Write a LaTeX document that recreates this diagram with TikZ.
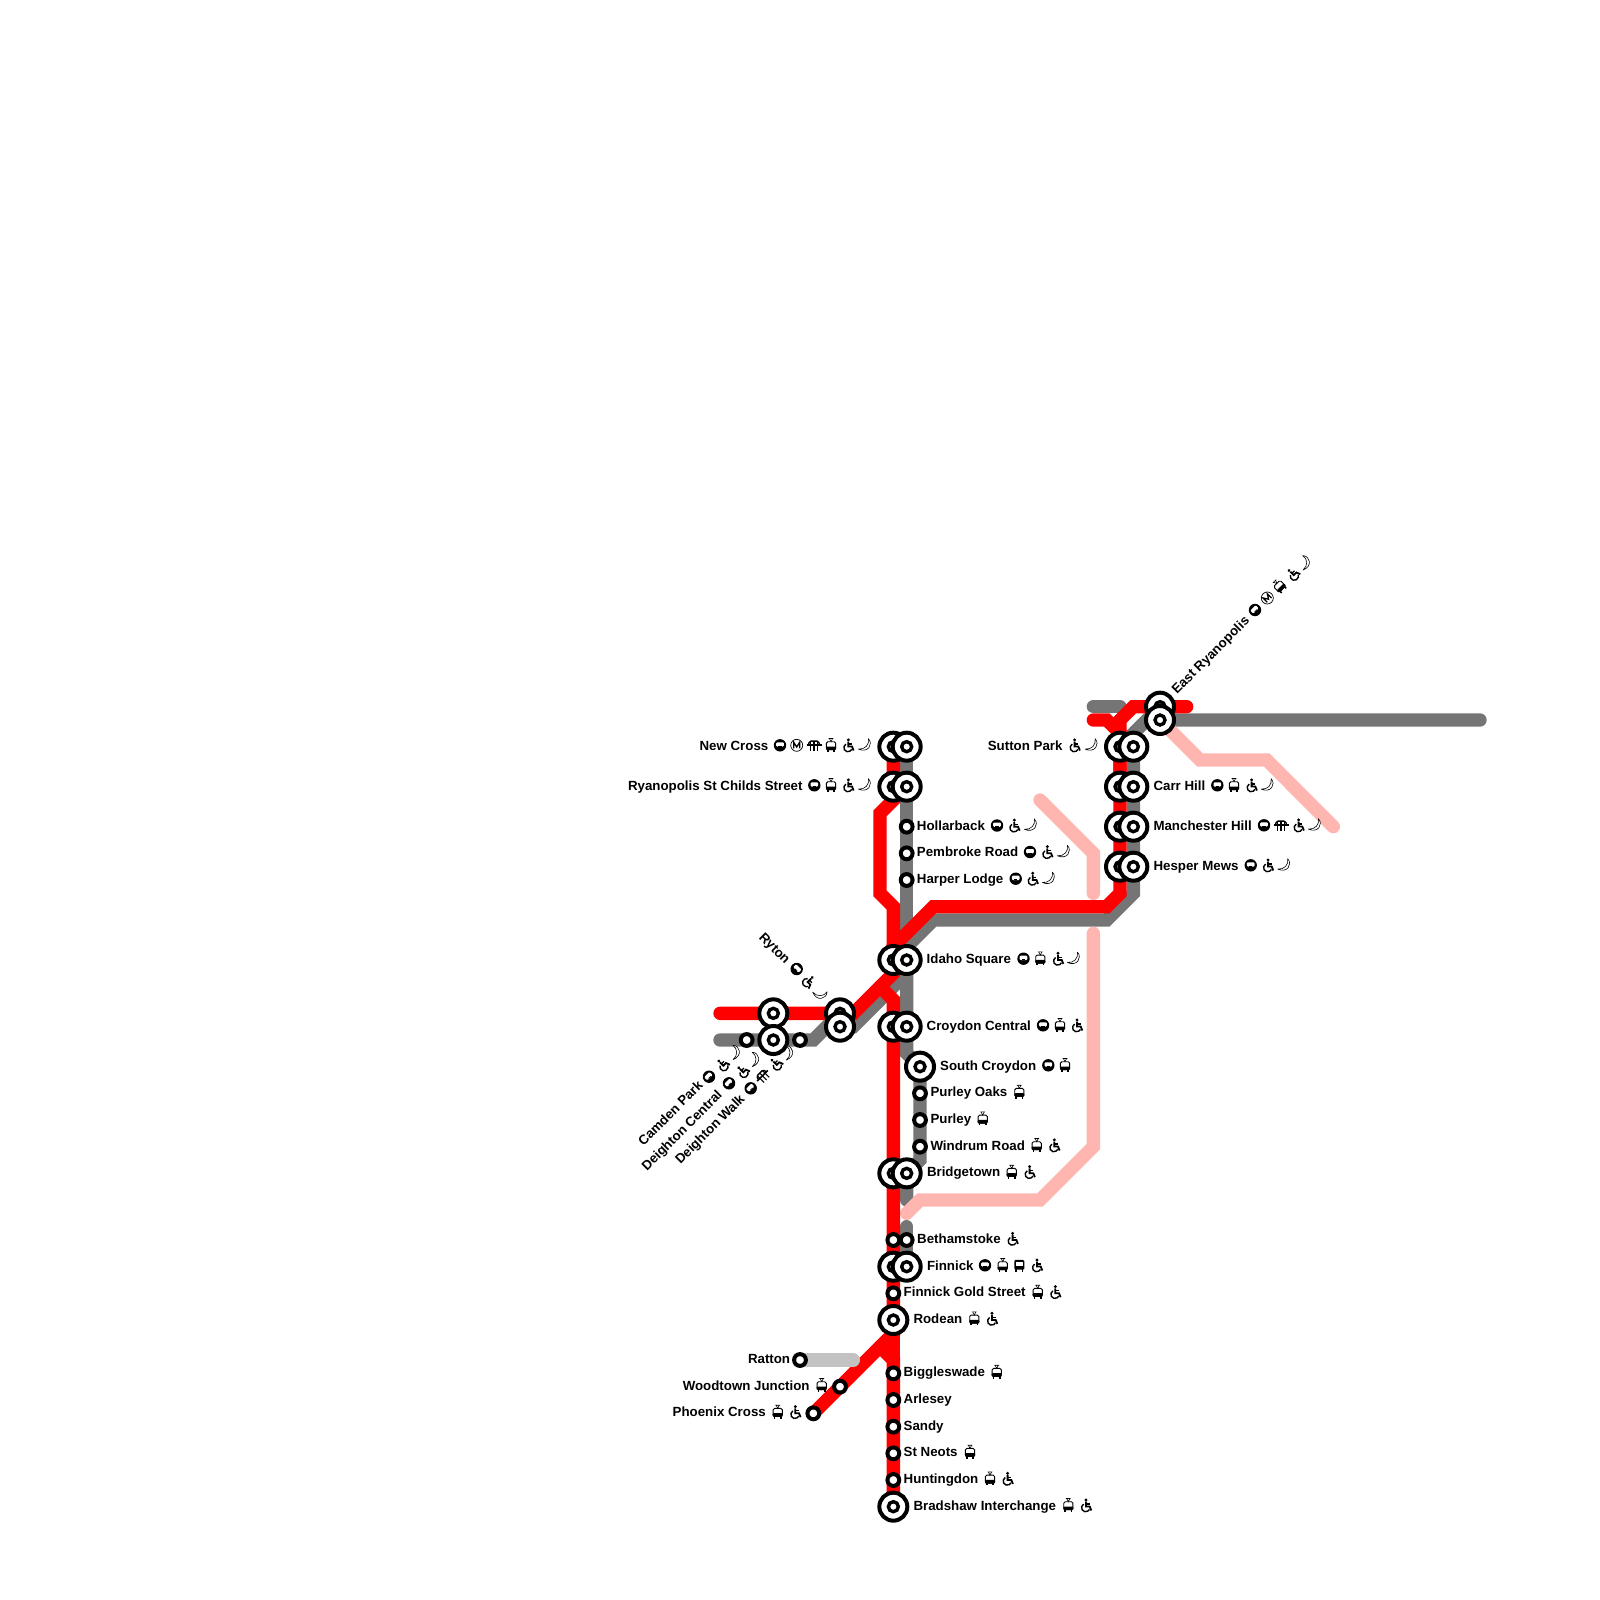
\documentclass[tikz,border=0pt]{standalone}
\usepackage{fontspec}
\setmainfont{Liberation Sans}
\pgfdeclarelayer{lines}
\pgfsetlayers{lines,main}
\definecolor{lred}{HTML}{FF0000}
\definecolor{lgrey}{HTML}{757575}
\definecolor{lpink}{HTML}{FFB5B0}
\definecolor{lsilver}{HTML}{C2C2C2}
\tikzset{
 x=1pt,y=-1pt,
 bigout/.style={circle,draw=black,fill=white,line width=4pt,minimum size=28pt,inner sep=0pt},
 bigin/.style={circle,draw=black,fill=white,line width=3.4pt,minimum size=10pt,inner sep=0pt},
 smlstn/.style={circle,draw=black,fill=white,line width=4pt,minimum size=11.8pt,inner sep=0pt},
 lab/.style={font=\fontsize{13.3}{15}\selectfont\bfseries,inner sep=0pt,text height=9.5pt,text depth=0pt},
 lne/.style={line width=13.33pt,line cap=round,line join=miter},
 redline/.style={lne,draw=lred},
 greyline/.style={lne,draw=lgrey},
 pinkline/.style={lne,draw=lpink},
 silverline/.style={lne,draw=lsilver},
 pics/tubeic/.style={code={
   \fill[black] (0,0) circle (6.2);
   \fill[white,rounded corners=1pt] (-3.8,-3) rectangle (3.8,1.3);
   \fill[black] (-1.6,.7) rectangle (1.6,1.4);
 }},
 pics/metroic/.style={code={
   \draw[black,line width=.7pt] (0,0) circle (6);
   \draw[black,line width=1.3pt,line join=miter] (-3,3)--(-3,-3)--(0,1.7)--(3,-3)--(3,3);
 }},
 pics/bridgeic/.style={code={
   \draw[black,line width=1.4pt,rounded corners=1.5pt] (-5.5,-.5)--(-4.5,-4.2)--(4.5,-4.2)--(5.5,-.5);
   \draw[black,line width=1.5pt] (-7.5,-.3)--(7.5,-.3);
   \draw[black,line width=1.1pt] (-3.6,-4)--(-3.6,5.5) (0,-4)--(0,5.5) (3.6,-4)--(3.6,5.5);
 }},
 pics/tramic/.style={code={
   \draw[black,line width=.9pt,rounded corners=1.5pt,fill=white] (-4.6,-3.6) rectangle (4.6,4.4);
   \fill[black,rounded corners=1pt] (-5,1.2) rectangle (5,4.8);
   \draw[black,line width=.6pt] (-2.4,-6.8)--(2.4,-6.8) (-1.6,-6.8)--(0,-3.6)--(1.6,-6.8);
   \draw[black,line width=1.5pt] (-3.2,4.5)--(-3.2,6.6) (3.2,4.5)--(3.2,6.6);
 }},
 pics/busic/.style={code={
   \fill[black,rounded corners=1.2pt] (-5,-5.4) rectangle (5,4.4);
   \fill[white] (-3.6,-3.2) rectangle (3.6,0.3);
   \draw[black,line width=1.5pt] (-3.2,4)--(-3.2,6.4) (3.2,4)--(3.2,6.4);
 }},
 pics/wheelic/.style={code={
   \fill[black] (0.3,-5.4) circle (1.6);
   \draw[black,line width=1.8pt,line join=miter] (0.3,-3.6)--(0.3,1.2)--(4,1.2)--(5.6,5.2);
   \draw[black,line width=1.2pt] (.4,-1.4)--(3.8,-1.4);
   \draw[black,line width=1.4pt] (-2.1,-1.2) arc[start angle=120,end angle=335,radius=4.1pt];
 }},
 pics/moonic/.style={code={
   \draw[black,line width=.6pt,fill=white,line join=round] (3.4,-6.6) .. controls (8.6,-1) and (3,8) .. (-6.6,3.8) .. controls (0,4.4) and (4.6,-.6) .. (3.4,-6.6) -- cycle;
 }},
}
\newcommand\Tu[3][0]{\pic[rotate=#1] at (#2,#3) {tubeic};}
\newcommand\Me[3][0]{\pic[rotate=#1] at (#2,#3) {metroic};}
\newcommand\Br[3][0]{\pic[rotate=#1] at (#2,#3) {bridgeic};}
\newcommand\Tr[3][0]{\pic[rotate=#1] at (#2,#3) {tramic};}
\newcommand\Bu[3][0]{\pic[rotate=#1] at (#2,#3) {busic};}
\newcommand\Wh[3][0]{\pic[rotate=#1] at (#2,#3) {wheelic};}
\newcommand\Mo[3][0]{\pic[rotate=#1] at (#2,#3) {moonic};}
\newcommand\Bstn[3]{\node[bigout] (#1) at (#2,#3) {}; \node[bigin] (#1i) at (#2,#3) {};}
\newcommand\Sstn[3]{\node[smlstn] (#1) at (#2,#3) {};}
\newcommand\Rlab[4]{\node[lab,anchor=west] (#1) at (#2,#3) {#4};}
\newcommand\Llab[4]{\node[lab,anchor=east] (#1) at (#2,#3) {#4};}
\newcommand\Alab[5]{\node[lab,anchor=west,rotate=#4] (#1) at (#2,#3) {#5};}
\begin{document}
\begin{tikzpicture}
\useasboundingbox (0,0) rectangle (1600,1600);
% stations
\Bstn{ncr}{893.33}{746.67}\Bstn{ncg}{906.67}{746.67}
\Bstn{rsr}{893.33}{786.67}\Bstn{rsg}{906.67}{786.67}
\Sstn{hol}{906.67}{826.67}\Sstn{pem}{906.67}{853.33}\Sstn{har}{906.67}{880}
\Bstn{idr}{893.33}{960}\Bstn{idg}{906.67}{960}
\Bstn{ccr}{893.33}{1026.67}\Bstn{ccg}{906.67}{1026.67}
\Bstn{sou}{920}{1066.67}
\Sstn{pok}{920}{1093.33}\Sstn{pur}{920}{1120}\Sstn{win}{920}{1146.67}
\Bstn{brr}{893.33}{1173.33}\Bstn{brg}{906.67}{1173.33}
\Sstn{ber}{893.33}{1240}\Sstn{beg}{906.67}{1240}
\Bstn{fir}{893.33}{1266.67}\Bstn{fig}{906.67}{1266.67}
\Sstn{fgs}{893.33}{1293.33}
\Bstn{rod}{893.33}{1320}
\Sstn{big}{893.33}{1373.33}\Sstn{arl}{893.33}{1400}\Sstn{san}{893.33}{1426.67}\Sstn{stn}{893.33}{1453.33}\Sstn{hun}{893.33}{1480}
\Bstn{bra}{893.33}{1506.67}
\Sstn{rat}{800}{1360}\Sstn{woo}{840}{1386.67}\Sstn{pho}{813.33}{1413.33}
\Bstn{dcr}{773.33}{1013.33}
\Bstn{dcg}{773.33}{1040}
\Sstn{cam}{746.67}{1040}\Sstn{dwa}{800}{1040}
\Bstn{ryr}{840}{1013.33}\Bstn{ryg}{840}{1026.67}
\Bstn{ear}{1160}{706.67}\Bstn{eag}{1160}{720}
\Bstn{sur}{1120}{746.67}\Bstn{sug}{1133.33}{746.67}
\Bstn{car}{1120}{786.67}\Bstn{cag}{1133.33}{786.67}
\Bstn{mar}{1120}{826.67}\Bstn{mag}{1133.33}{826.67}
\Bstn{her}{1120}{866.67}\Bstn{heg}{1133.33}{866.67}
% free ends of the lines
\coordinate (gE) at (1480,720);
\coordinate (gStub1) at (1093.33,706.67);
\coordinate (gStub2) at (1120,706.67);
\coordinate (gW) at (720,1040);
\coordinate (gCut) at (906.67,1200);
\coordinate (gTop) at (906.67,1226.67);
\coordinate (rW) at (720,1013.33);
\coordinate (rStubA) at (1093.33,720);
\coordinate (rStubB) at (1186.67,706.67);
\coordinate (sEnd) at (853.33,1360);
\coordinate (p1a) at (1040,800);
\coordinate (p1b) at (1093.33,893.33);
\coordinate (p2a) at (1093.33,933.33);
\coordinate (p2b) at (906.67,1213.33);
\coordinate (p3b) at (1333.33,826.67);
\begin{pgfonlayer}{lines}
 % grey
 \draw[greyline] (gE) -- (eag.center) -- (1146.67,720) -- (1133.33,733.33) -- (sug.center) -- (heg.center) -- (1133.33,893.33) -- (1106.67,920) -- (933.33,920) -- (906.67,946.67) -- (idg.center) -- (ccg.center);
 \draw[greyline] (gStub1) -- (gStub2);
 \draw[greyline] (ncg.center) -- (hol.center) -- (pem.center) -- (har.center) -- (906.67,930);
 \draw[greyline] (ccg.center) -- (906.67,1053.33) -- (sou.center) -- (win.center) -- (920,1160) -- (brg.center) -- (gCut);
 \draw[greyline] (gTop) -- (beg.center) -- (fig.center);
 \draw[greyline] (gW) -- (dwa.center) -- (813.33,1040) -- (840,1013.33);
 \draw[greyline] (ryg.center) -- (853.33,1026.67) -- (906.67,973.33);
 % pink
 \draw[pinkline] (p1a) -- (1093.33,853.33) -- (p1b);
 \draw[pinkline] (p2a) -- (1093.33,1146.67) -- (1040,1200) -- (920,1200) -- (p2b);
 \draw[pinkline] (eag.center) -- (1200,760) -- (1266.67,760) -- (p3b);
 % red
 \draw[redline] (rW) -- (ryr.center) -- (853.33,1013.33) -- (893.33,973.33) -- (idr.center) -- (893.33,906.67) -- (880,893.33) -- (880,813.33) -- (893.33,800) -- (rsr.center) -- (ncr.center);
 \draw[redline] (idr.center) -- (893.33,946.67) -- (933.33,906.67) -- (1106.67,906.67) -- (1120,893.33) -- (her.center) -- (sur.center) -- (1120,733.33) -- (1106.67,720) -- (rStubA);
 \draw[redline] (car.center) -- (1120,720) -- (1133.33,706.67) -- (rStubB);
 \draw[redline] (880,986.67) -- (893.33,1000) -- (ccr.center) -- (rod.center) -- (893.33,1333.33) -- (pho.center);
 \draw[redline] (bra.center) -- (893.33,1360) -- (880,1346.67);
 \draw[redline] (rod.center) -- (big.center);
 % silver
 \draw[silverline] (rat.center) -- (sEnd);
\end{pgfonlayer}
% labels, right of the line
\Rlab{tHol}{916.7}{825.5}{Hollarback}\Tu{997}{825.5}\Wh{1014}{825.5}\Mo{1031}{825.5}
\Rlab{tPem}{916.7}{852}{Pembroke Road}\Tu{1030}{852}\Wh{1047}{852}\Mo{1064}{852}
\Rlab{tHar}{916.7}{878.7}{Harper Lodge}\Tu{1015.7}{878.7}\Wh{1032.4}{878.7}\Mo{1049}{878.7}
\Rlab{tIda}{926.5}{958.7}{Idaho Square}\Tu{1023.5}{958.7}\Tr{1040.3}{958.7}\Wh{1057.7}{958.7}\Mo{1074}{958.7}
\Rlab{tCro}{926.5}{1025.3}{Croydon Central}\Tu{1043}{1025.3}\Tr{1060}{1025.3}\Wh{1076.7}{1025.3}
\Rlab{tSou}{940}{1065.3}{South Croydon}\Tu{1048.3}{1065.3}\Tr{1065}{1065.3}
\Rlab{tPok}{930.3}{1092}{Purley Oaks}\Tr{1019.3}{1092}
\Rlab{tPur}{930.3}{1118.7}{Purley}\Tr{982.7}{1118.7}
\Rlab{tWin}{930.3}{1145.3}{Windrum Road}\Tr{1036.7}{1145.3}\Wh{1054}{1145.3}
\Rlab{tBri}{926.8}{1172}{Bridgetown}\Tr{1011.7}{1172}\Wh{1029.3}{1172}
\Rlab{tBet}{917}{1238.7}{Bethamstoke}\Wh{1012.3}{1238.7}
\Rlab{tFin}{926.8}{1265.3}{Finnick}\Tu{985}{1265.3}\Tr{1002.7}{1265.3}\Bu{1019.3}{1265.3}\Wh{1036.7}{1265.3}
\Rlab{tFgs}{903.5}{1292}{Finnick Gold Street}\Tr{1037.7}{1292}\Wh{1055}{1292}
\Rlab{tRod}{913.3}{1318.7}{Rodean}\Tr{974.3}{1318.7}\Wh{991.7}{1318.7}
\Rlab{tBig}{903.5}{1372}{Biggleswade}\Tr{996.7}{1372}
\Rlab{tArl}{903.5}{1398.7}{Arlesey}
\Rlab{tSan}{903.5}{1425.3}{Sandy}
\Rlab{tStn}{903.5}{1452}{St Neots}\Tr{970}{1452}
\Rlab{tHun}{903.5}{1478.7}{Huntingdon}\Tr{990}{1478.7}\Wh{1007.3}{1478.7}
\Rlab{tBra}{913.3}{1505.3}{Bradshaw Interchange}\Tr{1068.3}{1505.3}\Wh{1085.7}{1505.3}
\Rlab{tCar}{1153.3}{785.3}{Carr Hill}\Tu{1217.3}{785.3}\Tr{1234}{785.3}\Wh{1251.3}{785.3}\Mo{1267.7}{785.3}
\Rlab{tMan}{1153.3}{825.3}{Manchester Hill}\Tu{1264}{825.3}\Br{1281}{825.3}\Wh{1298.3}{825.3}\Mo{1315}{825.3}
\Rlab{tHes}{1153.3}{865.3}{Hesper Mews}\Tu{1250.7}{865.3}\Wh{1267.7}{865.3}\Mo{1284.3}{865.3}
% labels, left of the line
\Llab{tNew}{768.5}{745.3}{New Cross}\Tu{780}{745.3}\Me{796.7}{745.3}\Br{814}{745.3}\Tr{831}{745.3}\Wh{848}{745.3}\Mo{865}{745.3}
\Llab{tRya}{802.7}{785.3}{Ryanopolis St Childs Street}\Tu{814.3}{785.3}\Tr{831}{785.3}\Wh{848}{785.3}\Mo{865}{785.3}
\Llab{tSut}{1062.7}{745.3}{Sutton Park}\Wh{1074.3}{745.3}\Mo{1091.7}{745.3}
\Llab{tRat}{790.3}{1358.7}{Ratton}
\Llab{tWoo}{809.8}{1385.3}{Woodtown Junction}\Tr{821.7}{1385.3}
\Llab{tPho}{766}{1412}{Phoenix Cross}\Tr{777.7}{1412}\Wh{795}{1412}
% slanted labels
\Alab{tEas}{1173.5}{691.5}{45}{East Ryanopolis}
\Tu[45]{1255}{610}\Me[45]{1267.3}{598}\Tr[45]{1279.3}{586}\Wh[45]{1292.7}{574.5}\Mo[45]{1305}{562.7}
\Alab{tRyt}{761.5}{934.5}{-45}{Ryton}
\Tu[-45]{796.7}{969}\Wh[-45]{808.3}{981}\Mo[-45]{820}{994}
\Alab{tCam}{640}{1143.3}{45}{Camden Park}
\Tu[45]{709}{1076.7}\Wh[45]{722.3}{1065}\Mo[45]{735}{1052.3}
\Alab{tDeC}{643.5}{1168.3}{45}{Deighton Central}
\Tu[45]{729}{1083.3}\Wh[45]{742.3}{1071.7}\Mo[45]{754.3}{1059.3}
\Alab{tDeW}{677}{1161.7}{45}{Deighton Walk}
\Tu[45]{750.7}{1088.3}\Br[45]{762.7}{1076}\Wh[45]{775.7}{1064.3}\Mo[45]{788.3}{1052.7}
\end{tikzpicture}
\end{document}
